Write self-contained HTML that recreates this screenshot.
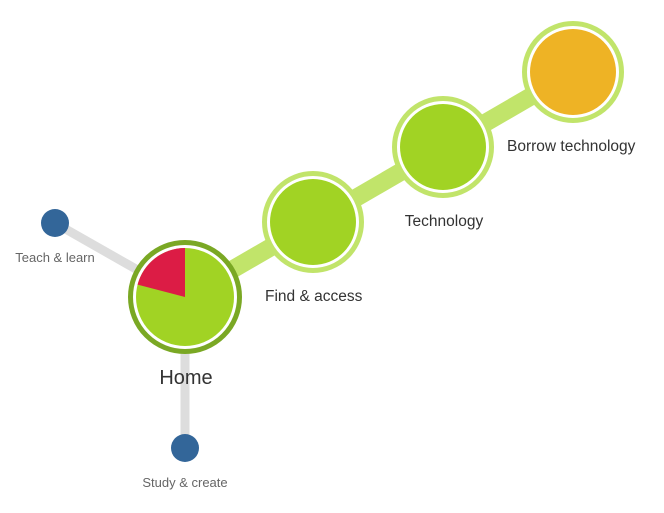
<!DOCTYPE html>
<html><head><meta charset="utf-8"><style>
html,body{margin:0;padding:0;background:#fff;width:664px;height:513px;overflow:hidden}
text{font-family:"Liberation Sans",sans-serif}
</style></head><body>
<svg width="664" height="513" viewBox="0 0 664 513">
<line x1="55" y1="223" x2="185" y2="297" stroke="#dddddd" stroke-width="9"/>
<line x1="185" y1="297" x2="185" y2="448" stroke="#dddddd" stroke-width="9"/>
<line x1="185" y1="297" x2="573" y2="72" stroke="#c1e46a" stroke-width="18"/>
<circle cx="55" cy="223" r="14" fill="#336699"/>
<circle cx="185" cy="448" r="14" fill="#336699"/>
<circle cx="185" cy="297" r="54.5" fill="#fff" stroke="#7aa824" stroke-width="5"/>
<circle cx="185" cy="297" r="49" fill="#a1d324"/>
<path d="M185 297 L185 248 A49 49 0 0 0 137.6 284.6 Z" fill="#dc1c45"/>
<circle cx="313" cy="222" r="48.5" fill="#fff" stroke="#c1e46a" stroke-width="5"/>
<circle cx="313" cy="222" r="43" fill="#a1d324"/>
<circle cx="443" cy="147" r="48.5" fill="#fff" stroke="#c1e46a" stroke-width="5"/>
<circle cx="443" cy="147" r="43" fill="#a1d324"/>
<circle cx="573" cy="72" r="48.5" fill="#fff" stroke="#c1e46a" stroke-width="5"/>
<circle cx="573" cy="72" r="43" fill="#eeb325"/>
<text x="186" y="384" font-size="20" fill="#333" text-anchor="middle">Home</text>
<text x="265" y="301" font-size="15.5" fill="#333">Find &amp; access</text>
<text x="444" y="226" font-size="15.5" fill="#333" text-anchor="middle">Technology</text>
<text x="507" y="151" font-size="15.5" fill="#333">Borrow technology</text>
<text x="55" y="262" font-size="13" fill="#666" text-anchor="middle">Teach &amp; learn</text>
<text x="185" y="487" font-size="13" fill="#666" text-anchor="middle">Study &amp; create</text>
</svg>
</body></html>
